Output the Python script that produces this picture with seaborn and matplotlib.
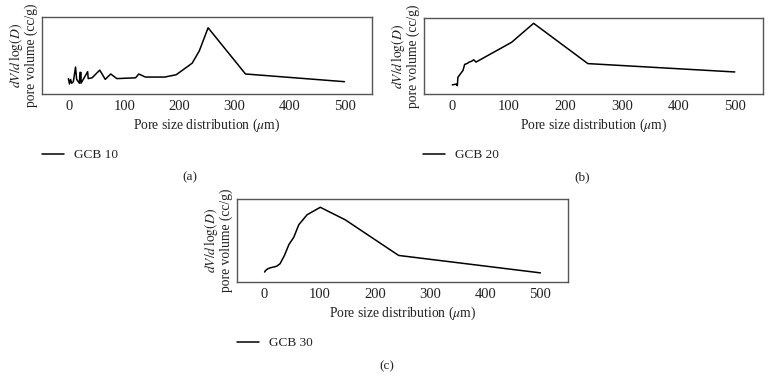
import matplotlib
matplotlib.use("Agg")
import matplotlib.pyplot as plt
import seaborn as sns
import pandas as pd

# Panel (a) GCB 10
x_a = [-2, 0, 2, 4, 7, 11, 13, 18, 19, 21, 21, 33, 34, 41, 55, 65, 75, 86, 120, 126, 138, 173, 194, 223, 236, 252, 320, 500]
y_a = [0.20, 0.13, 0.19, 0.14, 0.16, 0.35, 0.19, 0.14, 0.28, 0.28, 0.14, 0.29, 0.20, 0.21, 0.31, 0.19, 0.26, 0.20, 0.21, 0.26, 0.22, 0.22, 0.25, 0.40, 0.56, 0.86, 0.26, 0.16]
# Panel (b) GCB 20
x_b = [0, 7, 9, 10, 15, 19, 22, 26, 30, 34, 38, 42, 105, 144, 240, 500]
y_b = [0.12, 0.13, 0.11, 0.22, 0.27, 0.31, 0.39, 0.40, 0.42, 0.43, 0.45, 0.42, 0.68, 0.93, 0.40, 0.29]
# Panel (c) GCB 30
x_c = [0, 2, 6, 10, 16, 22, 28, 36, 44, 53, 62, 77, 101, 146, 243, 500]
y_c = [0.12, 0.14, 0.16, 0.17, 0.18, 0.19, 0.22, 0.32, 0.45, 0.54, 0.69, 0.81, 0.90, 0.75, 0.32, 0.11]

series_names = ["GCB 10", "GCB 20", "GCB 30"]
captions = ["(a)", "(b)", "(c)"]
xticks = [0, 100, 200, 300, 400, 500]

sns.set_theme(style="white")
plt.rcParams["font.family"] = ["Liberation Serif", "DejaVu Serif"]
plt.rcParams["mathtext.fontset"] = "stix"

W, H = 772, 379
fig = plt.figure(figsize=(W / 100, H / 100), dpi=100)

def px_axes(l, t, r, b):
    return fig.add_axes([l / W, 1 - b / H, (r - l) / W, (b - t) / H])

panels = [
    dict(data=(x_a, y_a), box=(42, 17, 372, 94), ylim=(0, 1), leg=(42, 155), cap=(190, 177)),
    dict(data=(x_b, y_b), box=(424, 18, 763, 94), ylim=(0, 1), leg=(423, 155), cap=(582, 177)),
    dict(data=(x_c, y_c), box=(237, 199, 568, 282), ylim=(0, 1), leg=(237, 343), cap=(387, 366)),
]

for p, name, cap in zip(panels, series_names, captions):
    ax = px_axes(*p["box"])
    df = pd.DataFrame({"x": p["data"][0], "y": p["data"][1]})
    sns.lineplot(data=df, x="x", y="y", ax=ax, sort=False, estimator=None,
                 color="black", linewidth=1.1, label=name)
    ax.set_xlim(-50, 550)
    ax.set_ylim(*p["ylim"])
    ax.set_xticks(xticks)
    ax.set_yticks([])
    ax.tick_params(axis="x", length=0, labelsize=10.5, pad=4, colors="#222222")
    for s in ax.spines.values():
        s.set_color("#555555")
        s.set_linewidth(1.0)
    ax.set_xlabel(r"Pore size distribution ($\mu$m)", fontsize=9.8, color="#222222", labelpad=3)
    ax.set_ylabel("$dV/d\\,\\mathrm{log}(D)$\npore volume (cc/g)", fontsize=9.8,
                  color="#222222", labelpad=3, linespacing=0.95)
    lx, ly = p["leg"]
    ax.legend(loc="center left", bbox_to_anchor=(lx / W, 1 - ly / H),
              bbox_transform=fig.transFigure, frameon=False, borderaxespad=0,
              borderpad=0, handlelength=1.7, handletextpad=0.7, fontsize=9.5,
              labelcolor="#222222")
    cx, cy = p["cap"]
    fig.text(cx / W, 1 - cy / H, cap, ha="center", va="center", fontsize=9.5, color="#222222")

fig.savefig("out.png", dpi=100)
